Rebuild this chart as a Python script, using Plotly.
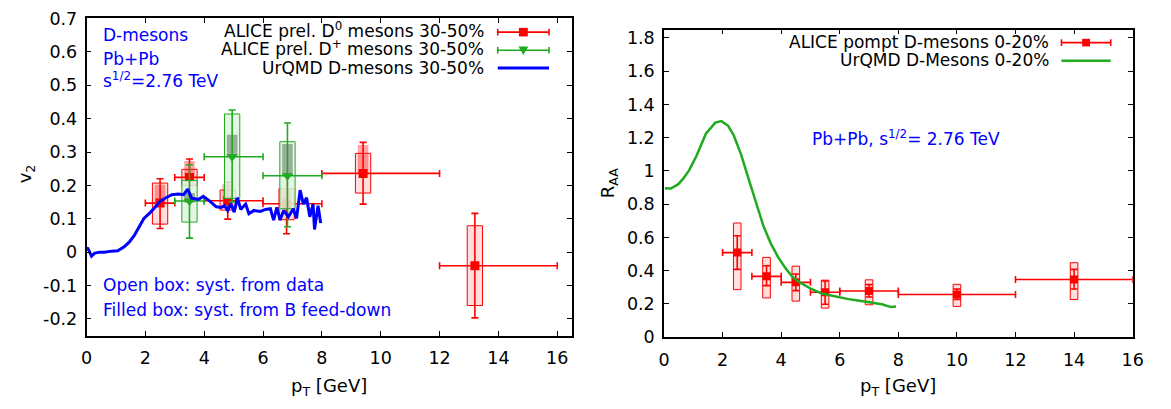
import plotly.graph_objects as go

W, H = 1171, 409
FONT = "DejaVu Sans"
RED = "#ff0000"
GREEN = "#1faa1f"
BLUE = "#0000ff"

# ---------------- Left panel: v2 ----------------
d0_x = [2.5, 3.5, 4.8, 6.8, 9.4, 13.2]
d0_y = [0.147, 0.224, 0.154, 0.145, 0.236, -0.041]
d0_xlo = [2.0, 3.0, 4.0, 6.0, 8.0, 12.0]
d0_xhi = [3.0, 4.0, 6.0, 8.0, 12.0, 16.0]
d0_stat_lo = [0.071, 0.169, 0.099, 0.055, 0.144, -0.197]
d0_stat_hi = [0.220, 0.279, 0.210, 0.235, 0.329, 0.116]
d0_sys_lo = [0.084, 0.200, 0.126, 0.097, 0.177, -0.160]
d0_sys_hi = [0.207, 0.248, 0.186, 0.190, 0.296, 0.079]
d0_fd_lo = [0.147, 0.224, 0.154, 0.145, 0.236, -0.041]
d0_fd_hi = [0.202, 0.273, 0.205, 0.190, 0.321, -0.041]

dp_x = [3.5, 4.95, 6.83]
dp_y = [0.153, 0.286, 0.229]
dp_xlo = [3.0, 4.0, 6.0]
dp_xhi = [4.0, 6.0, 8.0]
dp_stat_lo = [0.042, 0.150, 0.076]
dp_stat_hi = [0.262, 0.426, 0.387]
dp_sys_lo = [0.090, 0.161, 0.130]
dp_sys_hi = [0.215, 0.414, 0.331]
dp_fd_lo = [0.148, 0.286, 0.229]
dp_fd_hi = [0.177, 0.352, 0.324]

uv_x = [0.0, 0.05, 0.17, 0.28, 0.45, 0.61, 0.85, 1.06, 1.28, 1.45, 1.62, 1.80, 1.95,
        2.18, 2.35, 2.51, 2.70, 2.90, 3.13, 3.30, 3.44, 3.57, 3.80, 3.97, 4.19, 4.41,
        4.58, 4.69, 4.80, 4.91, 5.02, 5.13, 5.24, 5.41, 5.52, 5.69, 5.91, 6.08, 6.25,
        6.36, 6.47, 6.58, 6.70, 6.86, 7.03, 7.14, 7.26, 7.37, 7.48, 7.59, 7.70, 7.75,
        7.87, 7.96]
uv_y = [0.012, 0.011, -0.012, -0.003, 0.000, 0.000, 0.003, 0.004, 0.016, 0.030, 0.049,
        0.078, 0.101, 0.120, 0.138, 0.153, 0.163, 0.172, 0.174, 0.172, 0.189, 0.162,
        0.158, 0.167, 0.153, 0.136, 0.134, 0.139, 0.125, 0.145, 0.120, 0.163, 0.128,
        0.144, 0.115, 0.125, 0.122, 0.128, 0.130, 0.096, 0.134, 0.096, 0.125, 0.106,
        0.130, 0.101, 0.186, 0.144, 0.163, 0.106, 0.144, 0.068, 0.139, 0.087]

v2_yticks = [-0.2, -0.1, 0, 0.1, 0.2, 0.3, 0.4, 0.5, 0.6, 0.7]
v2_yticktext = ["-0.2", "-0.1", "0", "0.1", "0.2", "0.3", "0.4", "0.5", "0.6", "0.7"]
pt_ticks = [0, 2, 4, 6, 8, 10, 12, 14, 16]

# ---------------- Right panel: RAA ----------------
raa_x = [2.5, 3.5, 4.5, 5.5, 7.0, 10.0, 14.0]
raa_y = [0.509, 0.366, 0.330, 0.270, 0.278, 0.257, 0.347]
raa_xlo = [2, 3, 4, 5, 6, 8, 12]
raa_xhi = [3, 4, 5, 6, 8, 12, 16]
raa_stat_lo = [0.408, 0.310, 0.280, 0.198, 0.242, 0.227, 0.290]
raa_stat_hi = [0.610, 0.430, 0.380, 0.338, 0.316, 0.290, 0.408]
raa_sys_lo = [0.286, 0.236, 0.217, 0.175, 0.195, 0.185, 0.227]
raa_sys_hi = [0.687, 0.480, 0.427, 0.343, 0.345, 0.318, 0.448]

ur_x = [0.03, 0.23, 0.48, 0.67, 0.86, 1.11, 1.43, 1.75, 1.96, 2.19, 2.38, 2.63, 2.88,
        3.14, 3.39, 3.64, 3.90, 4.15, 4.40, 4.65, 5.03, 5.41, 5.92, 6.30, 6.68, 7.06,
        7.44, 7.75, 7.92]
ur_y = [0.896, 0.894, 0.919, 0.957, 1.005, 1.091, 1.224, 1.291, 1.300, 1.272, 1.215,
        1.100, 0.957, 0.805, 0.671, 0.566, 0.480, 0.414, 0.360, 0.328, 0.290, 0.261,
        0.242, 0.229, 0.219, 0.210, 0.198, 0.181, 0.185]

raa_yticks = [0, 0.2, 0.4, 0.6, 0.8, 1.0, 1.2, 1.4, 1.6, 1.8]
raa_yticktext = ["0", "0.2", "0.4", "0.6", "0.8", "1", "1.2", "1.4", "1.6", "1.8"]


def box_path(xs, lo, hi, hw):
    bx, by = [], []
    for x, a, b in zip(xs, lo, hi):
        bx += [x - hw, x + hw, x + hw, x - hw, x - hw, None]
        by += [a, a, b, b, a, None]
    return bx, by


def errs(x, y, xlo, xhi, ylo, yhi):
    return dict(
        ex_plus=[b - a for a, b in zip(x, xhi)],
        ex_minus=[a - b for a, b in zip(x, xlo)],
        ey_plus=[b - a for a, b in zip(y, yhi)],
        ey_minus=[a - b for a, b in zip(y, ylo)],
    )


fig = go.Figure()

# D0 open boxes
bx, by = box_path(d0_x, d0_sys_lo, d0_sys_hi, 0.26)
fig.add_trace(go.Scatter(x=bx, y=by, mode="lines", fill="toself",
                         fillcolor="rgba(255,0,0,0.13)", line=dict(color=RED, width=1),
                         xaxis="x", yaxis="y", hoverinfo="skip"))
bx, by = box_path(d0_x, d0_fd_lo, d0_fd_hi, 0.18)
fig.add_trace(go.Scatter(x=bx, y=by, mode="lines", fill="toself",
                         fillcolor="rgba(255,0,0,0.35)", line=dict(width=0),
                         xaxis="x", yaxis="y", hoverinfo="skip"))
e = errs(d0_x, d0_y, d0_xlo, d0_xhi, d0_stat_lo, d0_stat_hi)
fig.add_trace(go.Scatter(
    x=d0_x, y=d0_y, mode="markers", xaxis="x", yaxis="y",
    marker=dict(symbol="square", size=9, color=RED),
    error_x=dict(type="data", symmetric=False, array=e["ex_plus"], arrayminus=e["ex_minus"],
                 color=RED, thickness=1.6, width=3.5),
    error_y=dict(type="data", symmetric=False, array=e["ey_plus"], arrayminus=e["ey_minus"],
                 color=RED, thickness=1.6, width=3.5)))

# D+ boxes
bx, by = box_path(dp_x, dp_sys_lo, dp_sys_hi, 0.26)
fig.add_trace(go.Scatter(x=bx, y=by, mode="lines", fill="toself",
                         fillcolor="rgba(222,244,222,0.85)", line=dict(color=GREEN, width=1),
                         xaxis="x", yaxis="y", hoverinfo="skip"))
bx, by = box_path(dp_x, dp_fd_lo, dp_fd_hi, 0.18)
fig.add_trace(go.Scatter(x=bx, y=by, mode="lines", fill="toself",
                         fillcolor="rgba(110,125,110,0.6)", line=dict(width=0),
                         xaxis="x", yaxis="y", hoverinfo="skip"))
e = errs(dp_x, dp_y, dp_xlo, dp_xhi, dp_stat_lo, dp_stat_hi)
fig.add_trace(go.Scatter(
    x=dp_x, y=dp_y, mode="markers", xaxis="x", yaxis="y",
    marker=dict(symbol="triangle-down", size=10, color=GREEN),
    error_x=dict(type="data", symmetric=False, array=e["ex_plus"], arrayminus=e["ex_minus"],
                 color=GREEN, thickness=1.6, width=3.5),
    error_y=dict(type="data", symmetric=False, array=e["ey_plus"], arrayminus=e["ey_minus"],
                 color=GREEN, thickness=1.6, width=3.5)))

fig.add_trace(go.Scatter(x=uv_x, y=uv_y, mode="lines", line=dict(color=BLUE, width=3),
                         xaxis="x", yaxis="y"))

# Right panel
bx, by = box_path(raa_x, raa_sys_lo, raa_sys_hi, 0.13)
fig.add_trace(go.Scatter(x=bx, y=by, mode="lines", fill="toself",
                         fillcolor="rgba(255,0,0,0.13)", line=dict(color=RED, width=1),
                         xaxis="x2", yaxis="y2", hoverinfo="skip"))
e = errs(raa_x, raa_y, raa_xlo, raa_xhi, raa_stat_lo, raa_stat_hi)
fig.add_trace(go.Scatter(
    x=raa_x, y=raa_y, mode="markers", xaxis="x2", yaxis="y2",
    marker=dict(symbol="square", size=8, color=RED),
    error_x=dict(type="data", symmetric=False, array=e["ex_plus"], arrayminus=e["ex_minus"],
                 color=RED, thickness=1.6, width=3.5),
    error_y=dict(type="data", symmetric=False, array=e["ey_plus"], arrayminus=e["ey_minus"],
                 color=RED, thickness=1.6, width=3.5)))
fig.add_trace(go.Scatter(x=ur_x, y=ur_y, mode="lines", line=dict(color=GREEN, width=2.5),
                         xaxis="x2", yaxis="y2"))


def pxx(x):
    return x / W


def pyy(y):
    return 1 - y / H


axis_common = dict(ticks="inside", ticklen=5, tickwidth=1, tickcolor="black",
                   showline=True, linecolor="black", linewidth=1.5, mirror="allticks",
                   showgrid=False, zeroline=False, ticklabeloverflow="allow",
                   tickfont=dict(family=FONT, size=17.5, color="black"))

fig.update_layout(
    width=W, height=H, margin=dict(l=0, r=0, t=0, b=0),
    paper_bgcolor="white", plot_bgcolor="white", showlegend=False,
    xaxis=dict(domain=[pxx(81.7), pxx(574.3)], range=[0, 16.5], tickvals=pt_ticks,
               anchor="y", ticklabelstandoff=6, **axis_common),
    yaxis=dict(domain=[pyy(342.3), pyy(8.7)], range=[-0.25, 0.7008], tickvals=v2_yticks,
               ticktext=v2_yticktext, anchor="x", ticklabelstandoff=4, **axis_common),
    xaxis2=dict(domain=[pxx(667.7), pxx(1143.3)], range=[0, 16.001], tickvals=pt_ticks,
                anchor="y2", ticklabelstandoff=6, **axis_common),
    yaxis2=dict(domain=[pyy(344), pyy(20.7)], range=[0, 1.85], tickvals=raa_yticks,
                ticktext=raa_yticktext, anchor="x2", ticklabelstandoff=4, **axis_common),
)

ann = []


def text(x, y, s, color="black", xanchor="left", size=17, angle=0):
    ann.append(dict(x=pxx(x), y=pyy(y), xref="paper", yref="paper", text=s,
                    showarrow=False, xanchor=xanchor, yanchor="middle", textangle=angle,
                    font=dict(family=FONT, size=size, color=color)))


# left panel text
text(96, 26, "D-mesons", BLUE)
text(96, 51, "Pb+Pb", BLUE)
text(96, 74, "s<sup>1/2</sup>=2.76 TeV", BLUE)
text(96, 289, "Open box: syst. from data", BLUE)
text(96, 315, "Filled box: syst. from B feed-down", BLUE)
text(487, 21, "ALICE prel. D<sup>0</sup> mesons 30-50%", "black", "right")
text(487, 40, "ALICE prel. D<sup>+</sup> mesons 30-50%", "black", "right")
text(487, 61, "UrQMD D-mesons 30-50%", "black", "right")
text(20, 172, "v<sub>2</sub>", xanchor="center", size=18, angle=-90)
text(328, 396, "p<sub>T</sub> [GeV]", xanchor="center", size=18)

# right panel text
text(1060, 34, "ALICE pompt D-mesons 0-20%", "black", "right")
text(1060, 53, "UrQMD D-Mesons 0-20%", "black", "right")
text(816, 135, "Pb+Pb, s<sup>1/2</sup>= 2.76 TeV", BLUE)
text(612, 182, "R<sub>AA</sub>", xanchor="center", size=18, angle=-90)
text(905, 396, "p<sub>T</sub> [GeV]", xanchor="center", size=18)

fig.update_layout(annotations=ann)

shapes = []


def seg(x0, y0, x1, y1, color, w):
    shapes.append(dict(type="line", xref="paper", yref="paper", x0=pxx(x0), y0=pyy(y0),
                       x1=pxx(x1), y1=pyy(y1), line=dict(color=color, width=w)))


def err_key(x0, x1, y, color):
    seg(x0, y, x1, y, color, 1.6)
    seg(x0, y - 3.5, x0, y + 3.5, color, 1.6)
    seg(x1, y - 3.5, x1, y + 3.5, color, 1.6)


# left legend
err_key(499, 551, 23.3, RED)
shapes.append(dict(type="rect", xref="paper", yref="paper", x0=pxx(520.5), x1=pxx(529.5),
                   y0=pyy(27.8), y1=pyy(18.8), fillcolor=RED, line=dict(width=0)))
err_key(499, 551, 42.3, GREEN)
shapes.append(dict(type="path", xref="paper", yref="paper",
                   path="M %f,%f L %f,%f L %f,%f Z" % (pxx(520), pyy(38.3), pxx(530), pyy(38.3),
                                                       pxx(525), pyy(47.3)),
                   fillcolor=GREEN, line=dict(width=0)))
seg(499, 61, 551, 61, BLUE, 3)

# right legend
err_key(1071, 1121, 34.3, RED)
shapes.append(dict(type="rect", xref="paper", yref="paper", x0=pxx(1092), x1=pxx(1100),
                   y0=pyy(38.3), y1=pyy(30.3), fillcolor=RED, line=dict(width=0)))
seg(1071, 53.3, 1121, 53.3, GREEN, 2.5)

fig.update_layout(shapes=shapes)

fig.write_html("out.html")
